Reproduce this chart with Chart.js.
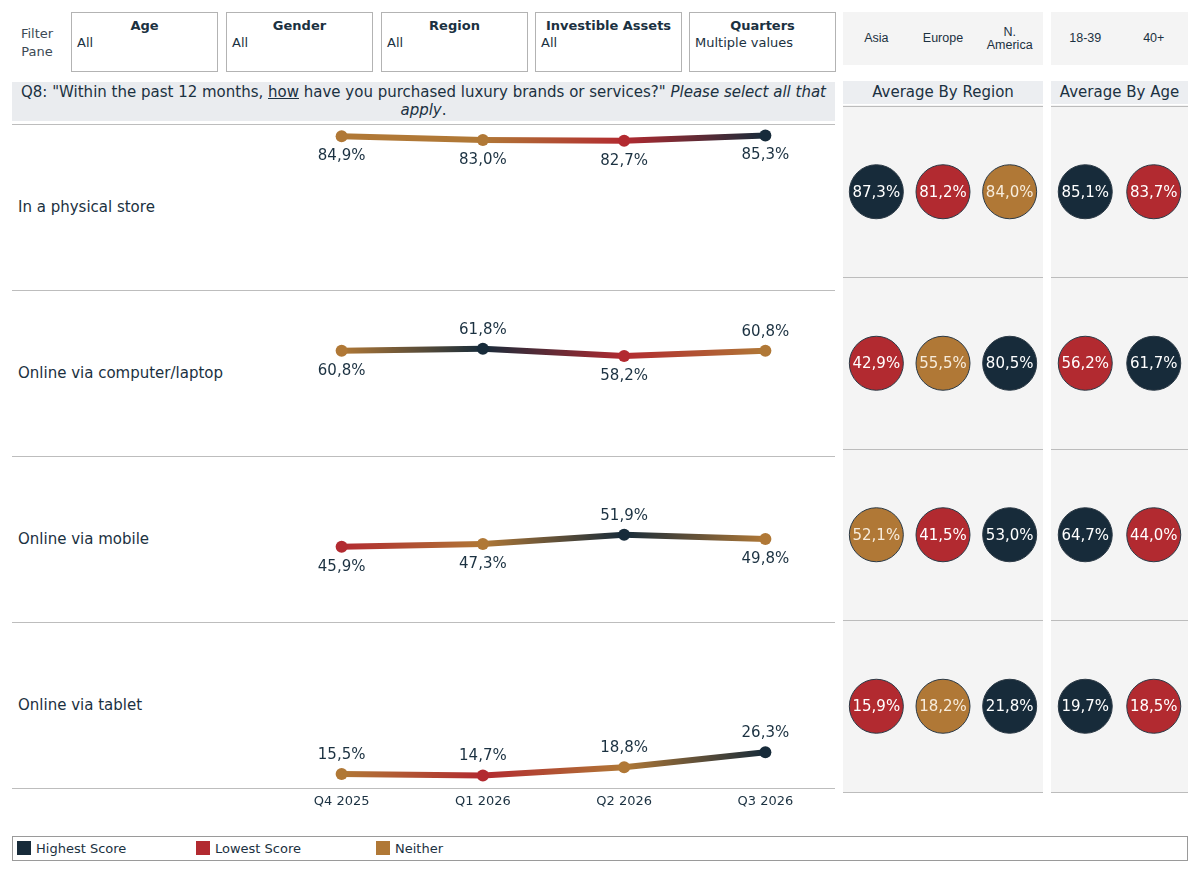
<!DOCTYPE html>
<html>
<head>
<meta charset="utf-8">
<script src="https://cdn.jsdelivr.net/npm/chart.js@4.4.1/dist/chart.umd.min.js"></script>
<style>
  body { margin: 0; width: 1199px; height: 872px; background: #fff; font-family: "DejaVu Sans", sans-serif; color: #1b3141; position: relative; overflow: hidden; }
  .abs { position: absolute; }
  .filter-label { left: 14px; top: 25px; width: 46px; text-align: center; font-size: 13px; line-height: 18px; color: #3c4a55; }
  .fbox { top: 12px; width: 147px; height: 60px; border: 1px solid #b3b3b3; box-sizing: border-box; }
  .fbox .h { font-weight: bold; font-size: 13px; text-align: center; margin-top: 5px; line-height: 16px; }
  .fbox .v { font-size: 13px; padding-left: 5px; line-height: 17px; }
  .title { left: 12px; top: 82px; width: 823px; height: 39px; background: #eaecef; text-align: center; font-size: 15px; line-height: 18px; padding-top: 1px; box-sizing: border-box; }
  .hline { left: 12px; width: 823px; height: 1px; background: #bdbdbd; }
  .rowlabel { left: 18px; font-size: 15px; line-height: 18px; }
  .panel { background: #f4f4f4; }
  .colhead { font-family: "Liberation Sans", Arial, sans-serif; font-size: 12.5px; line-height: 13px; text-align: center; display: flex; align-items: center; justify-content: center; }
  .panelhead { top: 81px; height: 23px; background: #eceef1; font-size: 15px; line-height: 22px; text-align: center; }
  .legend { left: 12px; top: 836px; width: 1176px; height: 25px; border: 1px solid #9a9a9a; box-sizing: border-box; font-size: 13px; }
  .legend .item { position: absolute; top: 3px; line-height: 17px; }
  .legend .sw { display: inline-block; width: 14px; height: 14px; vertical-align: -2px; margin-right: 5px; }
</style>
</head>
<body>
<div class="abs filter-label">Filter<br>Pane</div>
<div class="abs fbox" style="left:71px"><div class="h">Age</div><div class="v">All</div></div>
<div class="abs fbox" style="left:226px"><div class="h">Gender</div><div class="v">All</div></div>
<div class="abs fbox" style="left:381px"><div class="h">Region</div><div class="v">All</div></div>
<div class="abs fbox" style="left:535px"><div class="h">Investible Assets</div><div class="v">All</div></div>
<div class="abs fbox" style="left:689px"><div class="h">Quarters</div><div class="v">Multiple values</div></div>

<div class="abs title">Q8: "Within the past 12 months, <u>how</u> have you purchased luxury brands or services?" <i>Please select all that apply</i>.</div>

<div class="abs panel" id="regionHead" style="left:843px; top:12px; width:200px; height:53px;"></div>
<div class="abs panel" id="ageHead" style="left:1051px; top:12px; width:137px; height:53px;"></div>
<div class="abs panelhead" style="left:843px; width:200px;">Average By Region</div>
<div class="abs panelhead" style="left:1051px; width:137px;">Average By Age</div>
<div class="abs panel" style="left:843px; top:105px; width:200px; height:688px;"><canvas id="regionChart" width="200" height="688"></canvas></div>
<div class="abs panel" style="left:1051px; top:105px; width:137px; height:688px;"><canvas id="ageChart" width="137" height="688"></canvas></div>

<div id="rows"></div>

<div class="abs legend">
  <div class="item" style="left:4px"><span class="sw" style="background:#172b3a"></span>Highest Score</div>
  <div class="item" style="left:183px"><span class="sw" style="background:#b22a30"></span>Lowest Score</div>
  <div class="item" style="left:363px"><span class="sw" style="background:#b07836"></span>Neither</div>
</div>

<script>
const quarters = ['Q4 2025', 'Q1 2026', 'Q2 2026', 'Q3 2026'];
const channels = ['In a physical store', 'Online via computer/laptop', 'Online via mobile', 'Online via tablet'];

// quarterly share per purchase channel
const physicalStore = [84.9, 83.0, 82.7, 85.3];
const computerLaptop = [60.8, 61.8, 58.2, 60.8];
const mobile = [45.9, 47.3, 51.9, 49.8];
const tablet = [15.5, 14.7, 18.8, 26.3];

// averages by region, one value per channel
const regions = ['Asia', 'Europe', 'N. America'];
const asiaAvg = [87.3, 42.9, 52.1, 15.9];
const europeAvg = [81.2, 55.5, 41.5, 18.2];
const americaAvg = [84.0, 80.5, 53.0, 21.8];

// averages by age, one value per channel
const ageGroups = ['18-39', '40+'];
const youngAvg = [85.1, 56.2, 64.7, 19.7];
const olderAvg = [83.7, 61.7, 44.0, 18.5];

const NAVY = '#172b3a';
const RED = '#b22a30';
const GOLD = '#b07836';
const TEXT = '#1b3141';

const series = [physicalStore, computerLaptop, mobile, tablet];
// where the value label sits for each point (style only)
const labelSides = [
  ['below', 'below', 'below', 'below'],
  ['below', 'above', 'below', 'above'],
  ['below', 'below', 'above', 'below'],
  ['above', 'above', 'above', 'above']
];

function rankColours(vals) {
  const hi = Math.max(...vals), lo = Math.min(...vals);
  return vals.map(v => v === hi ? NAVY : (v === lo ? RED : GOLD));
}
function fmt(v) {
  return v.toFixed(1).replace('.', ',') + '%';
}

// column headers of the side panels
function fillHead(id, names, width) {
  const el = document.getElementById(id);
  names.forEach((n, i) => {
    const d = document.createElement('div');
    d.className = 'abs colhead';
    d.style.left = (i * width) + 'px';
    d.style.width = width + 'px';
    d.style.top = '0px';
    d.style.height = '53px';
    d.innerHTML = n.replace('. ', '.<br>');
    el.appendChild(d);
  });
}
fillHead('regionHead', regions, 200 / regions.length);
fillHead('ageHead', ageGroups, 137 / ageGroups.length);

const ROW_TOP = 124;
const ROW_H = 166;
const rowsEl = document.getElementById('rows');

for (let i = 0; i <= channels.length; i++) {
  const l = document.createElement('div');
  l.className = 'abs hline';
  l.style.top = (ROW_TOP + i * ROW_H) + 'px';
  rowsEl.appendChild(l);
}

const valueLabels = {
  id: 'valueLabels',
  afterDatasetsDraw(chart, args, opts) {
    const ctx = chart.ctx;
    ctx.save();
    ctx.font = '15px "DejaVu Sans"';
    ctx.fillStyle = TEXT;
    ctx.textAlign = 'center';
    ctx.textBaseline = 'middle';
    chart.getDatasetMeta(0).data.forEach((pt, j) => {
      const v = chart.data.datasets[0].data[j];
      const dy = opts.sides[j] === 'above' ? -19 : 20;
      ctx.fillText(fmt(v), pt.x, pt.y + dy);
    });
    ctx.restore();
  }
};

series.forEach((vals, r) => {
  const top = ROW_TOP + r * ROW_H;
  const lab = document.createElement('div');
  lab.className = 'abs rowlabel';
  lab.style.top = (top + ROW_H / 2 - 9) + 'px';
  lab.textContent = channels[r];
  rowsEl.appendChild(lab);

  const last = r === series.length - 1;
  const h = ROW_H + (last ? 28 : 0);
  const wrap = document.createElement('div');
  wrap.className = 'abs';
  wrap.style.left = '271px';
  wrap.style.top = top + 'px';
  wrap.style.width = '565px';
  wrap.style.height = h + 'px';
  const cv = document.createElement('canvas');
  cv.width = 565;
  cv.height = h;
  wrap.appendChild(cv);
  rowsEl.appendChild(wrap);

  const cols = rankColours(vals);
  const xScale = {
    display: last,
    offset: true,
    grid: { display: false, drawTicks: false },
    border: { display: false },
    ticks: { color: TEXT, padding: 6, font: { family: 'DejaVu Sans', size: 13 } }
  };
  if (last) xScale.afterFit = s => { s.height = 28; };

  new Chart(cv, {
    type: 'line',
    data: {
      labels: quarters,
      datasets: [{
        data: vals,
        borderWidth: 6,
        borderCapStyle: 'round',
        borderJoinStyle: 'round',
        pointRadius: 6,
        pointBorderWidth: 0,
        pointBackgroundColor: cols,
        clip: false,
        segment: {
          borderColor: c => {
            const g = c.chart.ctx.createLinearGradient(c.p0.x, c.p0.y, c.p1.x, c.p1.y);
            g.addColorStop(0, cols[c.p0DataIndex]);
            g.addColorStop(1, cols[c.p1DataIndex]);
            return g;
          },
          // keeps each segment separate so every one gets its own gradient
          borderDashOffset: c => c.p0DataIndex
        }
      }]
    },
    options: {
      responsive: false,
      animation: false,
      events: [],
      layout: { padding: 0, autoPadding: false },
      plugins: { legend: { display: false }, tooltip: { enabled: false }, valueLabels: { sides: labelSides[r] } },
      scales: {
        x: xScale,
        y: { display: false, min: 8.5, max: 91 }
      }
    },
    plugins: [valueLabels]
  });
});

const bubbleLabels = {
  id: 'bubbleLabels',
  afterDatasetsDraw(chart) {
    const ctx = chart.ctx;
    ctx.save();
    ctx.font = '15px "DejaVu Sans"';
    ctx.textAlign = 'center';
    ctx.textBaseline = 'middle';
    chart.data.datasets.forEach((ds, d) => {
      chart.getDatasetMeta(d).data.forEach((pt, j) => {
        ctx.fillStyle = ds.backgroundColor[j] === GOLD ? '#f7ecdc' : '#ffffff';
        ctx.fillText(fmt(ds.data[j].v), pt.x, pt.y + 1);
      });
    });
    ctx.restore();
  }
};

function bubblePanel(id, groups, groupVals) {
  const datasets = groups.map((g, gi) => ({
    data: channels.map((c, ci) => ({ x: g, y: c, r: 27, v: groupVals[gi][ci] })),
    backgroundColor: channels.map((c, ci) => rankColours(groupVals.map(a => a[ci]))[gi]),
    borderColor: '#2b3945',
    borderWidth: 1
  }));
  new Chart(document.getElementById(id), {
    type: 'bubble',
    data: { datasets },
    options: {
      responsive: false,
      animation: false,
      events: [],
      layout: { padding: { top: 1, bottom: 1 }, autoPadding: false },
      plugins: { legend: { display: false }, tooltip: { enabled: false } },
      scales: {
        x: { type: 'category', labels: groups, offset: true, display: false },
        y: {
          type: 'category',
          labels: channels,
          offset: true,
          grid: { offset: true, color: '#bcbcbc', drawTicks: false },
          border: { display: false },
          ticks: { display: false },
          afterFit: s => { s.width = 0; }
        }
      }
    },
    plugins: [bubbleLabels]
  });
}
bubblePanel('regionChart', regions, [asiaAvg, europeAvg, americaAvg]);
bubblePanel('ageChart', ageGroups, [youngAvg, olderAvg]);
</script>
</body>
</html>
